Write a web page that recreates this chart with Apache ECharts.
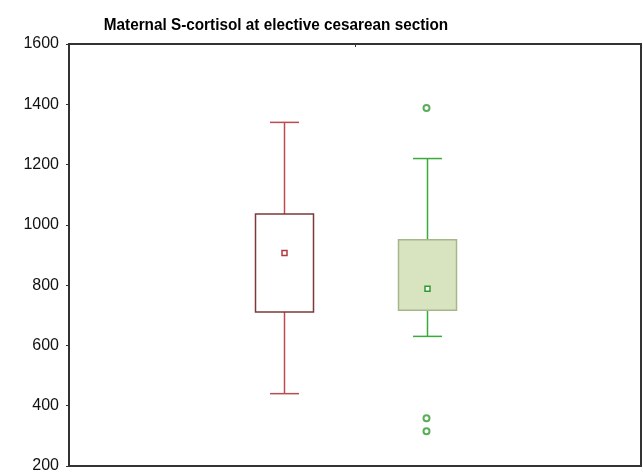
<!DOCTYPE html>
<html>
<head>
<meta charset="utf-8">
<script src="https://cdn.jsdelivr.net/npm/echarts@6/dist/echarts.min.js"></script>
<style>html,body{margin:0;padding:0;background:#fff}#c{width:643px;height:474px}</style>
</head>
<body>
<div id="c"></div>
<script>
const titleText = 'Maternal S-cortisol at elective cesarean section';
const groups = ['Group 1', 'Group 2'];
const whiskerLow = [440, 630];
const q1 = [711, 717];
const centerVal = [907, 788];
const q3 = [1036, 951];
const whiskerHigh = [1340, 1220];
const outliers = [[], [1388, 358, 315]];
const yTicks = [200, 400, 600, 800, 1000, 1200, 1400, 1600];

const styles = [
  {whisker: '#bd4a4e', box: '#7d3a3a', fill: '#ffffff', mark: '#b23a3e'},
  {whisker: '#3aaa3a', box: '#a6b68c', fill: '#d8e4bf', mark: '#2e9a2e'}
];

const boxData = groups.map((g, i) => [3 + 2 * i, whiskerLow[i], q1[i], centerVal[i], q3[i], whiskerHigh[i], i]);
const outData = [];
outliers.forEach((arr, i) => arr.forEach(v => outData.push([3 + 2 * i, v, i])));

const chart = echarts.init(document.getElementById('c'));
chart.setOption({
  animation: false,
  graphic: [{
    type: 'text', x: 276, y: 25, scaleX: 0.9, scaleY: 1,
    style: {text: titleText, fill: '#000', align: 'center', verticalAlign: 'middle',
      font: 'bold 17px "Liberation Sans", Arial, sans-serif'}
  }],
  grid: {left: 69, right: 2, top: 44, bottom: 6, show: true, borderColor: '#333', borderWidth: 2},
  xAxis: [
    {type: 'value', min: 0, max: 8, show: false},
    {type: 'value', min: 0, max: 8, interval: 4, position: 'top',
      axisLine: {show: false}, splitLine: {show: false}, axisLabel: {show: false},
      axisTick: {show: true, inside: true, length: 3, lineStyle: {color: '#333'}}}
  ],
  yAxis: [{
    type: 'value', min: 200, max: 1600, interval: 200,
    axisLine: {show: true, lineStyle: {color: '#333', width: 1.5}},
    axisTick: {show: true, length: 3, lineStyle: {color: '#333'}},
    splitLine: {show: false},
    axisLabel: {fontFamily: 'Liberation Sans, Arial', fontSize: 16, color: '#111', margin: 10,
      formatter: v => yTicks.includes(v) ? String(v) : ''}
  }, {
    type: 'value', min: 200, max: 1600, interval: 200, position: 'right',
    axisLine: {show: false}, splitLine: {show: false}, axisLabel: {show: false},
    axisTick: {show: true, inside: true, length: 3, lineStyle: {color: '#333'}}
  }],
  series: [{
    type: 'custom',
    data: boxData,
    renderItem: function (params, api) {
      const x = api.value(0);
      const i = api.value(6);
      const st = styles[i];
      const pLow = api.coord([x, api.value(1)]);
      const pQ1 = api.coord([x, api.value(2)]);
      const pC = api.coord([x, api.value(3)]);
      const pQ3 = api.coord([x, api.value(4)]);
      const pHigh = api.coord([x, api.value(5)]);
      const bw = 58, cw = 29, ms = 5;
      const cx = Math.round(pC[0]) + 0.5;
      return {
        type: 'group',
        children: [
          {type: 'line', shape: {x1: cx, y1: pHigh[1], x2: cx, y2: pQ3[1]}, style: {stroke: st.whisker, lineWidth: 1.5}},
          {type: 'line', shape: {x1: cx, y1: pQ1[1], x2: cx, y2: pLow[1]}, style: {stroke: st.whisker, lineWidth: 1.5}},
          {type: 'line', shape: {x1: cx - cw / 2, y1: pHigh[1], x2: cx + cw / 2, y2: pHigh[1]}, style: {stroke: st.whisker, lineWidth: 1.5}},
          {type: 'line', shape: {x1: cx - cw / 2, y1: pLow[1], x2: cx + cw / 2, y2: pLow[1]}, style: {stroke: st.whisker, lineWidth: 1.5}},
          {type: 'rect', shape: {x: cx - bw / 2, y: pQ3[1], width: bw, height: pQ1[1] - pQ3[1]}, style: {fill: st.fill, stroke: st.box, lineWidth: 1.5}},
          {type: 'rect', shape: {x: cx - ms / 2, y: pC[1] - ms / 2, width: ms, height: ms}, style: {fill: '#fff', stroke: st.mark, lineWidth: 1.5}}
        ]
      };
    }
  }, {
    type: 'scatter',
    data: outData.map(d => d.slice(0, 2)),
    symbol: 'emptyCircle', symbolSize: 6,
    itemStyle: {color: '#2e9a2e', borderColor: '#2e9a2e', borderWidth: 1.5}
  }]
});
</script>
</body>
</html>
